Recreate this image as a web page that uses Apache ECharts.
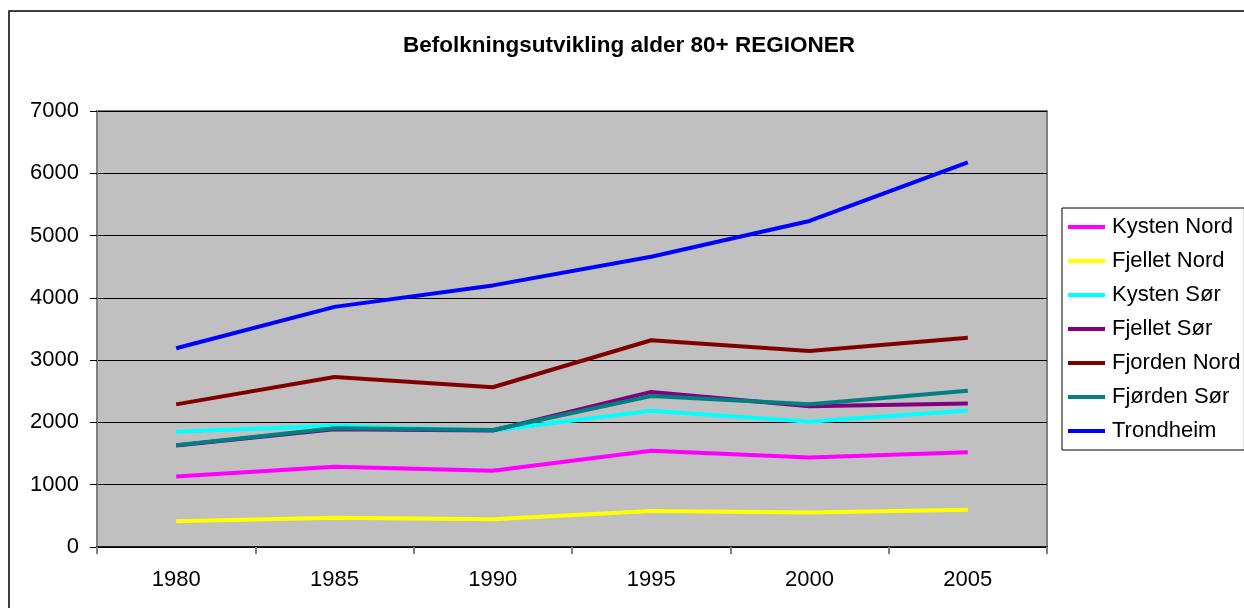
<!DOCTYPE html>
<html>
<head>
<meta charset="utf-8">
<script src="https://cdn.jsdelivr.net/npm/echarts@6/dist/echarts.min.js"></script>
<style>
  html, body { margin: 0; padding: 0; background: #fff; }
  #chart { width: 1244px; height: 608px; }
</style>
</head>
<body>
<div id="chart"></div>
<script>
const years = ['1980', '1985', '1990', '1995', '2000', '2005'];
const kystenNord = [1130, 1290, 1225, 1545, 1435, 1520];
const fjelletNord = [415, 470, 445, 578, 552, 600];
const kystenSor = [1850, 1945, 1870, 2188, 2010, 2190];
const fjelletSor = [1630, 1890, 1870, 2490, 2260, 2305];
const fjordenNord = [2290, 2730, 2565, 3320, 3145, 3360];
const fjordenSor = [1635, 1905, 1878, 2425, 2290, 2510];
const trondheim = [3190, 3855, 4200, 4660, 5235, 6175];

const font = 'Arial, "Liberation Sans", sans-serif';

const seriesList = [
  { name: 'Kysten Nord', data: kystenNord, color: '#FF00FF' },
  { name: 'Fjellet Nord', data: fjelletNord, color: '#FFFF00' },
  { name: 'Kysten Sør', data: kystenSor, color: '#00FFFF' },
  { name: 'Fjellet Sør', data: fjelletSor, color: '#800080' },
  { name: 'Fjorden Nord', data: fjordenNord, color: '#800000' },
  { name: 'Fjørden Sør', data: fjordenSor, color: '#008080' },
  { name: 'Trondheim', data: trondheim, color: '#0000FF' },
];

const chart = echarts.init(document.getElementById('chart'));
chart.setOption({
  animation: false,
  textStyle: { fontFamily: font },
  graphic: [
    {
      type: 'rect',
      shape: { x: 9, y: 11, width: 1260, height: 620 },
      style: { fill: 'none', stroke: '#000', lineWidth: 1.5 },
      z: -10,
    },
  ],
  title: {
    text: 'Befolkningsutvikling alder 80+ REGIONER',
    left: 398,
    top: 29,
    textStyle: { fontFamily: font, fontSize: 22.5, fontWeight: 'bold', color: '#000' },
  },
  legend: {
    orient: 'vertical',
    left: 1062,
    top: 208,
    backgroundColor: '#fff',
    borderColor: '#000',
    borderWidth: 1,
    padding: [8, 4, 8, 6],
    itemGap: 12,
    itemWidth: 37,
    itemHeight: 4,
    icon: 'rect',
    textStyle: { fontFamily: font, fontSize: 22, color: '#000', padding: [0, 0, 0, 2] },
    data: seriesList.map((s) => s.name),
  },
  grid: {
    left: 97,
    top: 111,
    right: 197,
    bottom: 61,
    show: true,
    backgroundColor: '#C0C0C0',
    borderColor: '#808080',
    borderWidth: 2,
  },
  xAxis: {
    type: 'category',
    data: years,
    boundaryGap: true,
    axisLine: { lineStyle: { color: '#000', width: 1.5 } },
    axisTick: { show: true, alignWithLabel: false, length: 7, lineStyle: { color: '#808080', width: 2 } },
    axisLabel: { fontSize: 22, color: '#000', margin: 22, fontFamily: font },
  },
  yAxis: {
    type: 'value',
    min: 0,
    max: 7000,
    interval: 1000,
    axisLine: { show: true, lineStyle: { color: '#808080', width: 2 } },
    axisTick: { show: true, length: 7, lineStyle: { color: '#000', width: 1 } },
    axisLabel: { fontSize: 22, color: '#000', margin: 18, fontFamily: font, formatter: (v) => String(v) },
    splitLine: { show: true, lineStyle: { color: '#000', width: 1 } },
  },
  series: seriesList.map((s) => ({
    name: s.name,
    type: 'line',
    data: s.data,
    color: s.color,
    symbol: 'none',
    lineStyle: { width: 4, color: s.color },
  })),
});
</script>
</body>
</html>
